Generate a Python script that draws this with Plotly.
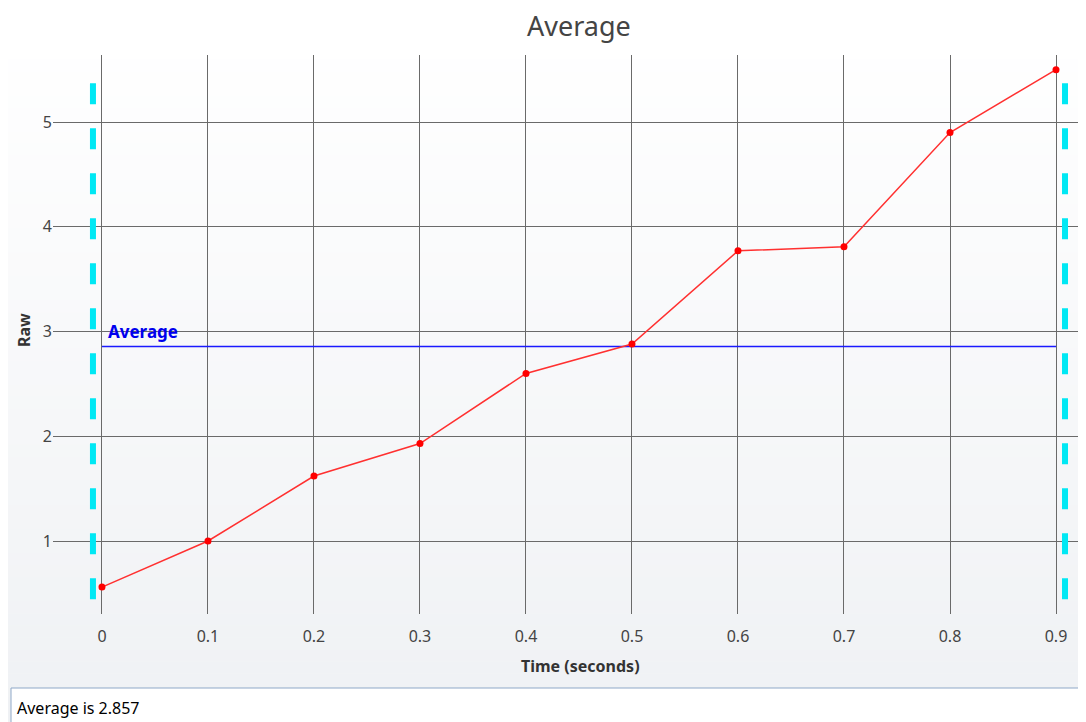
import plotly.graph_objects as go
import numpy as np

# ---- data ----
time_s = [0.0, 0.1, 0.2, 0.3, 0.4, 0.5, 0.6, 0.7, 0.8, 0.9]
raw = [0.56, 1.00, 1.62, 1.93, 2.60, 2.88, 3.77, 3.81, 4.90, 5.50]
x_ticks = [0, 0.1, 0.2, 0.3, 0.4, 0.5, 0.6, 0.7, 0.8, 0.9]
x_tick_text = ["0", "0.1", "0.2", "0.3", "0.4", "0.5", "0.6", "0.7", "0.8", "0.9"]
y_ticks = [1, 2, 3, 4, 5]
bounds = [-0.0085, 0.9085]

avg = float(np.mean(raw))

OFF = 8  # page body margin
W, H = 1086 - OFF, 722 - OFF
L, R, T, B = 53 - OFF, 0, 55 - OFF, 722 - 614
PW, PH = W - L - R, H - T - B


def px_x(px):
    """reference window pixel -> paper x"""
    return (px - OFF - L) / PW


def px_y(py):
    """reference window pixel -> paper y"""
    return (H - B - (py - OFF)) / PH


FONT = "Noto Sans"
fig = go.Figure()

# cyan dashed boundary lines
for bx in bounds:
    fig.add_trace(go.Scatter(
        x=[bx, bx], y=[5.37, 0.42], mode="lines",
        line=dict(color="#00e8f4", width=6, dash="21px,24px"),
        hoverinfo="skip", showlegend=False))

# average line
fig.add_trace(go.Scatter(
    x=[time_s[0], time_s[-1]], y=[avg, avg], mode="lines",
    line=dict(color="#1a1aff", width=1.5), hoverinfo="skip", showlegend=False))

# data line
fig.add_trace(go.Scatter(
    x=time_s, y=raw, mode="lines+markers",
    line=dict(color="#ff3030", width=1.5),
    marker=dict(color="#ff0000", size=7), showlegend=False))

shapes = []
# background gradient
n = 60
for i in range(n):
    y0p = i * 722 / n
    y1p = (i + 1) * 722 / n
    t = (i + 0.5) / n
    f = min(1.0, max(0.0, (t - 0.05) / 0.95))
    r = int(round(255 - (255 - 239) * f))
    g = int(round(255 - (255 - 241) * f))
    b = int(round(255 - (255 - 244) * f))
    shapes.append(dict(type="rect", xref="paper", yref="paper",
                       x0=px_x(0), x1=px_x(1090), y0=px_y(y1p), y1=px_y(y0p) + 0.001,
                       fillcolor=f"rgb({r},{g},{b})", line=dict(width=0), layer="below"))
# text box at bottom
shapes.append(dict(type="rect", xref="paper", yref="paper",
                   x0=px_x(11), x1=px_x(1092), y0=px_y(728), y1=px_y(688),
                   fillcolor="white", line=dict(color="#8fa8c8", width=1), layer="above"))

annotations = [
    dict(text="Average", xref="paper", yref="paper", x=px_x(579), y=px_y(26),
         showarrow=False, font=dict(family=FONT, size=27, color="#444444"),
         xanchor="center", yanchor="middle", borderpad=0),
    dict(text="<b>Raw</b>", xref="paper", yref="paper", x=px_x(24), y=px_y(330),
         showarrow=False, textangle=-90, font=dict(family=FONT, size=16, color="#333333"),
         xanchor="center", yanchor="middle"),
    dict(text="<b>Time (seconds)</b>", xref="paper", yref="paper", x=px_x(580), y=px_y(666),
         showarrow=False, font=dict(family=FONT, size=16, color="#333333"),
         xanchor="center", yanchor="middle"),
    dict(text="<b>Average</b>", xref="x", yref="y", x=time_s[0], y=avg,
         showarrow=False, font=dict(family=FONT, size=17, color="#0000ee"),
         xanchor="left", yanchor="bottom", xshift=4, yshift=1),
    dict(text=f"Average is {avg:.3f}", xref="paper", yref="paper", x=px_x(15), y=px_y(708),
         showarrow=False, font=dict(family=FONT, size=16, color="#000000"),
         xanchor="left", yanchor="middle"),
]

fig.update_layout(
    width=W, height=H,
    margin=dict(l=L, r=R, t=T, b=B, pad=0),
    paper_bgcolor="white", plot_bgcolor="rgba(0,0,0,0)",
    shapes=shapes, annotations=annotations,
    font=dict(family=FONT, size=16, color="#444444"),
    xaxis=dict(range=[-0.0462, 0.9283], tickvals=x_ticks, ticktext=x_tick_text,
               showgrid=True, gridcolor="#6a6a6a", gridwidth=1, zeroline=False,
               showline=False, ticks="outside", ticklen=8, tickcolor="rgba(0,0,0,0)",
               tickfont=dict(size=16, color="#444444")),
    yaxis=dict(range=[0.303, 5.64], tickvals=y_ticks,
               showgrid=True, gridcolor="#6a6a6a", gridwidth=1, zeroline=False,
               showline=False, ticks="", tickfont=dict(size=16, color="#444444")),
)

fig.write_html("out.html")
